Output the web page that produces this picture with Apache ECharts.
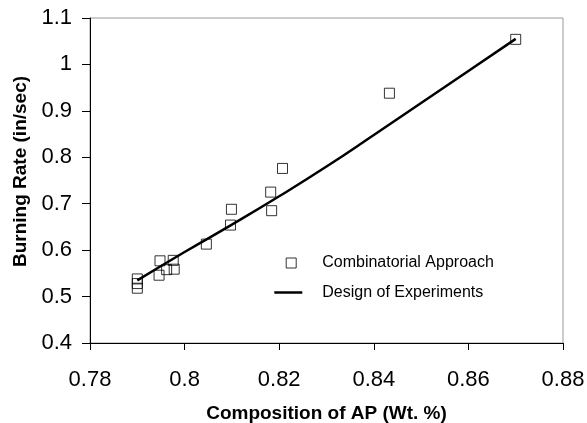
<!DOCTYPE html>
<html>
<head>
<meta charset="utf-8">
<script src="https://cdn.jsdelivr.net/npm/echarts@6/dist/echarts.min.js"></script>
<style>
html,body{margin:0;padding:0;background:#fff;}
#chart{width:587px;height:423px;}
</style>
</head>
<body>
<div id="chart"></div>
<script>
// Data
const comboX = [0.79, 0.79, 0.79, 0.7948, 0.7976, 0.7946, 0.7962, 0.7978, 0.8046, 0.8097, 0.8099, 0.8182, 0.8184, 0.8207, 0.8433, 0.87];
const comboY = [0.538, 0.528, 0.518, 0.577, 0.578, 0.546, 0.558, 0.559, 0.613, 0.654, 0.688, 0.725, 0.685, 0.776, 0.938, 1.054];
const doeX = [0.79, 0.80, 0.81, 0.82, 0.83, 0.84, 0.85, 0.86, 0.87];
const doeY = [0.535, 0.596, 0.655, 0.716, 0.780, 0.848, 0.917, 0.986, 1.055];
const xTitle = 'Composition of AP (Wt. %)';
const yTitle = 'Burning Rate (in/sec)';
const seriesNames = ['Combinatorial Approach', 'Design of Experiments'];

const FONT = '"Liberation Sans", Arial, sans-serif';
const chart = echarts.init(document.getElementById('chart'), null, {renderer: 'canvas'});

const comboData = comboX.map((x, i) => [x, comboY[i]]);
const doeData = doeX.map((x, i) => [x, doeY[i]]);

chart.setOption({
  animation: false,
  backgroundColor: '#fff',
  grid: {
    left: 90, top: 18, right: 24, bottom: 80,
    containLabel: false, outerBoundsMode: 'none',
    show: true, borderColor: '#999', borderWidth: 1, backgroundColor: 'transparent'
  },
  xAxis: {
    type: 'value', min: 0.78, max: 0.88, interval: 0.02,
    name: xTitle, nameLocation: 'middle', nameGap: 61,
    nameTextStyle: {fontFamily: FONT, fontSize: 19, fontWeight: 'bold', color: '#000'},
    axisLine: {show: true, lineStyle: {color: '#000', width: 1}},
    axisTick: {show: true, inside: false, length: 7, lineStyle: {color: '#000'}},
    axisLabel: {fontFamily: FONT, fontSize: 22, color: '#000', margin: 26},
    splitLine: {show: false}
  },
  yAxis: {
    type: 'value', min: 0.4, max: 1.1, interval: 0.1,
    name: yTitle, nameLocation: 'middle', nameGap: 57, nameRotate: 90,
    nameTextStyle: {fontFamily: FONT, fontSize: 19, fontWeight: 'bold', color: '#000', padding: [0, 0, 0, 18]},
    axisLine: {show: true, lineStyle: {color: '#000', width: 1}},
    axisTick: {show: true, inside: false, length: 8, lineStyle: {color: '#000'}},
    axisLabel: {fontFamily: FONT, fontSize: 22, color: '#000', margin: 18},
    splitLine: {show: false}
  },
  legend: [
    {
      data: [{name: seriesNames[0], icon: 'rect', itemStyle: {color: 'transparent', borderColor: '#000', borderWidth: 1}}],
      left: 280.7, top: 250, itemWidth: 10, itemHeight: 10,
      textStyle: {fontFamily: FONT, fontSize: 16, color: '#000', padding: [0, 0, 0, 21]},
      selectedMode: false
    },
    {
      data: [{name: seriesNames[1], icon: 'rect', itemStyle: {color: '#000', borderWidth: 0}}],
      left: 269.3, top: 279.5, itemWidth: 28, itemHeight: 2.5,
      textStyle: {fontFamily: FONT, fontSize: 16, color: '#000', padding: [0, 0, 0, 15]},
      selectedMode: false
    }
  ],
  series: [
    {
      name: seriesNames[0], type: 'scatter', data: comboData,
      symbol: 'rect', symbolSize: 10,
      itemStyle: {color: 'transparent', borderColor: '#000', borderWidth: 1},
      z: 2
    },
    {
      name: seriesNames[1], type: 'line', data: doeData,
      symbol: 'none', showSymbol: false, smooth: true,
      lineStyle: {color: '#000', width: 2.5},
      itemStyle: {color: '#000'},
      z: 3
    }
  ]
});
</script>
</body>
</html>
